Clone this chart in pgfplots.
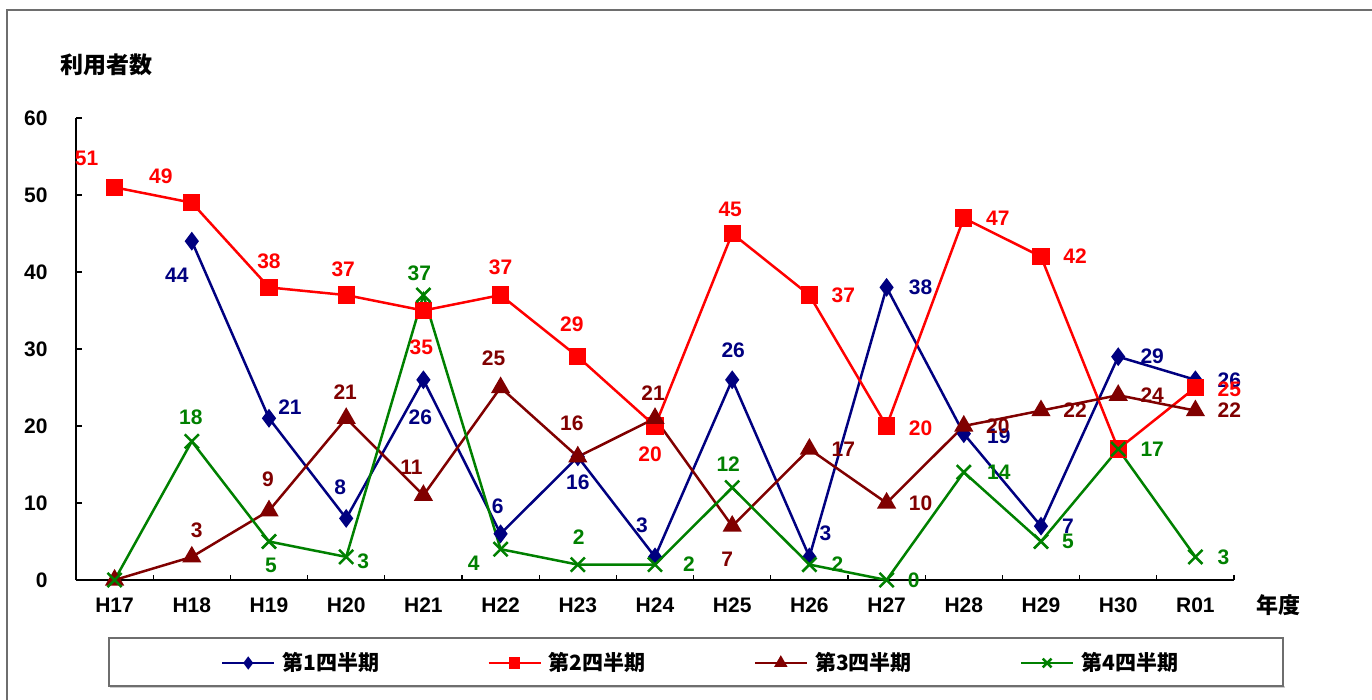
\documentclass[border=0pt]{standalone}
\usepackage{pgfplots}
\pgfplotsset{compat=1.18}
\usepackage{pgfplotstable}
\usepackage{fontspec}
\setmainfont{Liberation Sans}
\newfontfamily\jp{Noto Sans CJK JP}

\definecolor{qone}{RGB}{0,0,128}
\definecolor{qtwo}{RGB}{255,0,0}
\definecolor{qthree}{RGB}{128,0,0}
\definecolor{qfour}{RGB}{0,128,0}
\definecolor{framegray}{RGB}{110,110,110}

\newcommand\lblfont{\bfseries\fontsize{10.5bp}{12bp}\selectfont}

% x: year index (H17 = 0 ... R01 = 14), y: users, dx/dy: label offset (bp), s: label shown
\pgfplotstableread{
x y dx dy s
1 44 -7.5 -17 1
2 21 10.5 5.5 1
3 8 -3 15.5 1
4 26 -1.5 -18.5 1
5 6 -1.5 14 1
6 16 0 -12.5 1
7 3 -6.5 16 1
8 26 0.5 15 1
9 3 8 12 1
10 38 17 0 1
11 19 17.5 -1.5 1
12 7 13.5 0 1
13 29 17 0 1
14 26 17 0 1
}\tqone

\pgfplotstableread{
x y dx dy s
0 51 -14 14.5 1
1 49 -15.5 13 1
2 38 0 13 1
3 37 -1.5 13 1
4 35 -1 -18.5 1
5 37 0 14 1
6 29 -3 16 1
7 20 -2.5 -14 1
8 45 -1 12 1
9 37 17 0 1
10 20 17 -1 1
11 47 17 0 1
12 42 17 0 1
13 17 17 0 0
14 25 17 -1 1
}\tqtwo

\pgfplotstableread{
x y dx dy s
0 0 0 0 0
1 3 2.5 13.5 1
2 9 -0.5 15.5 1
3 21 -0.5 13 1
4 11 -6 14 1
5 25 -3.5 14.5 1
6 16 -3 17 1
7 21 -1 12.5 1
8 7 -2.5 -16.5 1
9 17 17 0 1
10 10 17 0 1
11 20 17 0 1
12 22 17 0 1
13 24 17 0 1
14 22 17 0 1
}\tqthree

\pgfplotstableread{
x y dx dy s
0 0 0 0 0
1 18 -0.5 12 1
2 5 1 -12 1
3 3 8.5 -2 1
4 37 -2 11 1
5 4 -13.5 -7 1
6 2 0.5 13.5 1
7 2 17 0 1
8 12 -2 11.5 1
9 2 14 0 1
10 0 13.5 0 1
11 14 17.5 0 1
12 5 13.5 0 1
13 17 17 0 1
14 3 14 0 1
}\tqfour

\pgfplotsset{
  vlabels/.style={
    draw=none, mark=none, forget plot,
    x filter/.expression={\thisrow{s}>0 ? x : nan},
    point meta=explicit,
    visualization depends on={\thisrow{dx}\as\ldx},
    visualization depends on={\thisrow{dy}\as\ldy},
    nodes near coords,
    every node near coord/.append style={text=#1, font=\lblfont, anchor=center,
      inner sep=0pt, xshift=\ldx bp, yshift=\ldy bp},
  },
  qline/.style={line width=1.25bp, color=#1, mark options={solid, fill=#1}},
}

\begin{document}
\begin{tikzpicture}
\useasboundingbox (0,0) rectangle (686bp,350bp);
% outer frame (left and top edges)
\draw[framegray, line width=0.7bp] (3.5bp,0) -- (3.5bp,345bp) -- (686bp,345bp);
% legend frame
\fill[black!20] (55bp,6bp) rectangle (642.5bp,6.9bp);
\draw[framegray, line width=0.6bp] (54.5bp,7bp) rectangle (641.5bp,31bp);

\begin{axis}[
  at={(38bp,60bp)}, anchor=south west,
  scale only axis, width=579bp, height=231bp,
  xmin=-0.5, xmax=14.5, ymin=0, ymax=60,
  clip=false,
  axis x line*=bottom, axis y line*=left,
  axis line style={-, line width=1bp, black},
  xtick={0,...,14},
  xticklabels={H17,H18,H19,H20,H21,H22,H23,H24,H25,H26,H27,H28,H29,H30,R01},
  minor xtick={-0.5,0.5,...,14.5},
  ytick={0,10,...,60},
  tick align=inside,
  major x tick style={draw=none},
  minor tick length=2.5bp, major tick length=3bp,
  tick style={black, line width=0.6bp},
  /pgf/number format/assume math mode=true,
  ticklabel style={font=\lblfont, inner sep=0pt},
  xticklabel style={anchor=base, yshift=-16.3bp},
  yticklabel style={anchor=east, xshift=-14bp},
  legend columns=4,
  legend style={draw=none, fill=none, inner sep=0pt, outer sep=0pt,
    at={(0.1252,-0.1797)}, anchor=west,
    font=\jp\bfseries\fontsize{10.5bp}{12bp}\selectfont,
    nodes={inner sep=0pt},
    /tikz/every odd column/.append style={column sep=3.5bp},
    /tikz/every even column/.append style={column sep=54bp}},
  legend image code/.code={
    \draw[mark repeat=2, mark phase=2, every mark/.append style={scale=0.62}, #1]
      plot coordinates {(0bp,0bp) (13bp,0bp) (26bp,0bp)};},
]
\addplot[qline=qone, mark=diamond*, mark size=3.7bp] table[x=x,y=y]{\tqone};
\addlegendentry{第1四半期}
\addplot[qline=qtwo, mark=square*, mark size=3.7bp] table[x=x,y=y]{\tqtwo};
\addlegendentry{第2四半期}
\addplot[qline=qthree, mark=triangle*, mark size=4.3bp] table[x=x,y=y]{\tqthree};
\addlegendentry{第3四半期}
\addplot[qline=qfour, mark=x, mark size=5bp] table[x=x,y=y]{\tqfour};
\addlegendentry{第4四半期}

\addplot[vlabels=qone] table[x=x,y=y,meta=y]{\tqone};
\addplot[vlabels=qtwo] table[x=x,y=y,meta=y]{\tqtwo};
\addplot[vlabels=qthree] table[x=x,y=y,meta=y]{\tqthree};
\addplot[vlabels=qfour] table[x=x,y=y,meta=y]{\tqfour};
\end{axis}

\node[font=\jp\bfseries\fontsize{11.5bp}{13bp}\selectfont] at (53.25bp,317.5bp) {利用者数};
\node[font=\jp\bfseries\fontsize{11bp}{13bp}\selectfont] at (639.25bp,47.5bp) {年度};
\end{tikzpicture}
\end{document}
